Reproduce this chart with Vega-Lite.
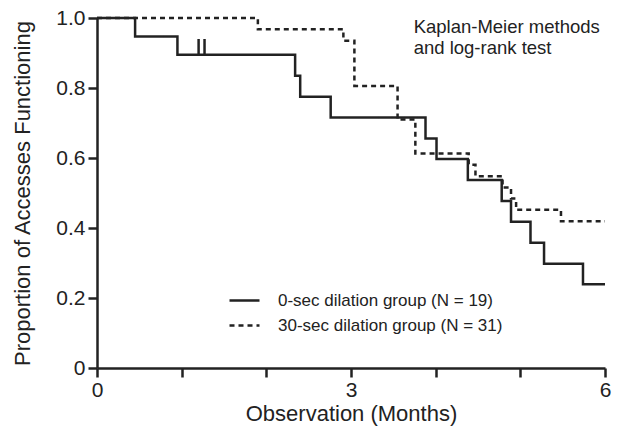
{
  "$schema": "https://vega.github.io/schema/vega-lite/v6.json",
  "width": 508,
  "height": 350,
  "autosize": "none",
  "padding": {"left": 97, "top": 18, "right": 14, "bottom": 64},
  "background": "white",
  "config": {
    "view": {"stroke": null},
    "font": "Liberation Sans",
    "axis": {
      "grid": false,
      "domainColor": "#222222",
      "domainWidth": 2.5,
      "tickColor": "#222222",
      "tickWidth": 2.5,
      "tickSize": 9,
      "labelColor": "#222222",
      "titleColor": "#222222",
      "labelFont": "Liberation Sans",
      "titleFont": "Liberation Sans",
      "labelFontSize": 21,
      "titleFontSize": 22,
      "titleFontWeight": "normal",
      "labelFlush": false
    }
  },
  "datasets": {
    "km": [
      {"group": "0-sec dilation group (N = 19)", "months": 0, "survival": 1.0},
      {"group": "0-sec dilation group (N = 19)", "months": 0.45, "survival": 0.947},
      {"group": "0-sec dilation group (N = 19)", "months": 0.95, "survival": 0.895},
      {"group": "0-sec dilation group (N = 19)", "months": 2.34, "survival": 0.835},
      {"group": "0-sec dilation group (N = 19)", "months": 2.40, "survival": 0.775},
      {"group": "0-sec dilation group (N = 19)", "months": 2.76, "survival": 0.716},
      {"group": "0-sec dilation group (N = 19)", "months": 3.88, "survival": 0.656},
      {"group": "0-sec dilation group (N = 19)", "months": 4.01, "survival": 0.597},
      {"group": "0-sec dilation group (N = 19)", "months": 4.38, "survival": 0.537},
      {"group": "0-sec dilation group (N = 19)", "months": 4.78, "survival": 0.477},
      {"group": "0-sec dilation group (N = 19)", "months": 4.89, "survival": 0.418},
      {"group": "0-sec dilation group (N = 19)", "months": 5.12, "survival": 0.358},
      {"group": "0-sec dilation group (N = 19)", "months": 5.28, "survival": 0.298},
      {"group": "0-sec dilation group (N = 19)", "months": 5.74, "survival": 0.239},
      {"group": "0-sec dilation group (N = 19)", "months": 6.0, "survival": 0.239},
      {"group": "30-sec dilation group (N = 31)", "months": 0, "survival": 1.0},
      {"group": "30-sec dilation group (N = 31)", "months": 1.90, "survival": 0.968},
      {"group": "30-sec dilation group (N = 31)", "months": 2.91, "survival": 0.935},
      {"group": "30-sec dilation group (N = 31)", "months": 3.04, "survival": 0.806},
      {"group": "30-sec dilation group (N = 31)", "months": 3.55, "survival": 0.710},
      {"group": "30-sec dilation group (N = 31)", "months": 3.76, "survival": 0.613},
      {"group": "30-sec dilation group (N = 31)", "months": 4.39, "survival": 0.581},
      {"group": "30-sec dilation group (N = 31)", "months": 4.47, "survival": 0.548},
      {"group": "30-sec dilation group (N = 31)", "months": 4.79, "survival": 0.516},
      {"group": "30-sec dilation group (N = 31)", "months": 4.89, "survival": 0.484},
      {"group": "30-sec dilation group (N = 31)", "months": 4.95, "survival": 0.452},
      {"group": "30-sec dilation group (N = 31)", "months": 5.48, "survival": 0.419},
      {"group": "30-sec dilation group (N = 31)", "months": 6.0, "survival": 0.419}
    ],
    "censor": [
      {"months": 1.20, "survival": 0.895, "top": 0.94},
      {"months": 1.27, "survival": 0.895, "top": 0.94}
    ],
    "note": [
      {"note": "Kaplan-Meier methods"}
    ]
  },
  "layer": [
    {
      "data": {"name": "km"},
      "mark": {"type": "line", "interpolate": "step-after", "strokeWidth": 2.5, "color": "#222222"},
      "encoding": {
        "x": {
          "field": "months", "type": "quantitative",
          "scale": {"domain": [0, 6], "nice": false},
          "axis": {
            "title": "Observation (Months)",
            "values": [0, 1, 2, 3, 4, 5, 6],
            "format": "d",
            "labelExpr": "datum.value % 3 === 0 ? datum.label : ''",
            "labelPadding": 2,
            "titlePadding": 3
          }
        },
        "y": {
          "field": "survival", "type": "quantitative",
          "scale": {"domain": [0, 1], "nice": false},
          "axis": {
            "title": "Proportion of Accesses Functioning",
            "values": [0, 0.2, 0.4, 0.6, 0.8, 1.0],
            "labelExpr": "datum.value === 0 ? '0' : format(datum.value, '.1f')",
            "labelPadding": 3,
            "titlePadding": 21
          }
        },
        "strokeDash": {
          "field": "group", "type": "nominal",
          "scale": {
            "domain": ["0-sec dilation group (N = 19)", "30-sec dilation group (N = 31)"],
            "range": [[1, 0], [5, 4]]
          },
          "legend": {
            "title": null,
            "orient": "none",
            "legendX": 131,
            "legendY": 266,
            "symbolType": "stroke",
            "symbolSize": 900,
            "symbolStrokeWidth": 2.5,
            "symbolStrokeColor": "#222222",
            "labelFont": "Liberation Sans",
            "labelFontSize": 17,
            "labelColor": "#222222",
            "labelOffset": 17,
            "labelLimit": 0,
            "rowPadding": -11
          }
        }
      }
    },
    {
      "data": {"name": "censor"},
      "mark": {"type": "rule", "strokeWidth": 2.5, "color": "#222222"},
      "encoding": {
        "x": {"field": "months", "type": "quantitative"},
        "y": {"field": "survival", "type": "quantitative"},
        "y2": {"field": "top"}
      }
    },
    {
      "data": {"name": "note"},
      "mark": {
        "type": "text",
        "align": "left",
        "baseline": "alphabetic",
        "font": "Liberation Sans",
        "fontSize": 18.5,
        "lineHeight": 21,
        "color": "#222222"
      },
      "encoding": {
        "x": {"datum": 3.74, "type": "quantitative"},
        "y": {"datum": 0.958, "type": "quantitative"},
        "text": {"value": ["Kaplan-Meier methods", "and log-rank test"]}
      }
    }
  ]
}
